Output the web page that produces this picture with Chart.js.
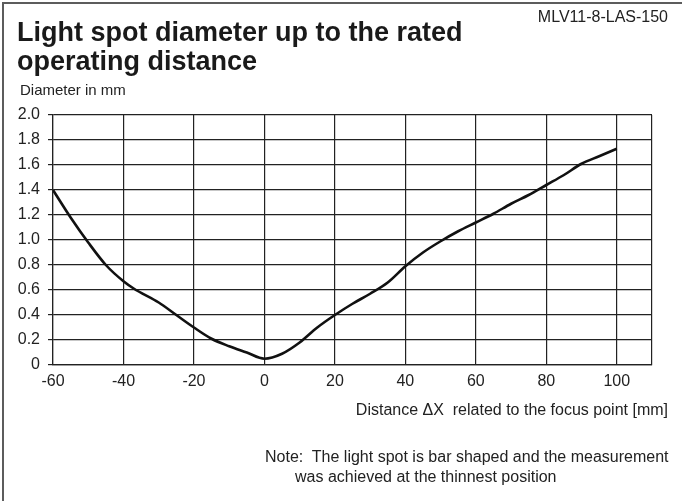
<!DOCTYPE html>
<html>
<head>
<meta charset="utf-8">
<script src="https://cdn.jsdelivr.net/npm/chart.js@4.4.1/dist/chart.umd.min.js"></script>
<style>
  body { margin: 0; background: #fff; font-family: "Liberation Sans", Arial, sans-serif; color: #222; }
  #wrap { position: relative; width: 682px; height: 501px; overflow: hidden; }
  #frame { position: absolute; left: 2px; top: 2px; width: 680px; height: 499px;
           border-left: 2px solid #5c5c5c; border-top: 2px solid #5c5c5c; box-sizing: border-box; }
  canvas { position: absolute; left: 0; top: 0; }
  .txt { position: absolute; white-space: nowrap; line-height: 18px; }
  #title { left: 17px; top: 18px; font-size: 27px; font-weight: bold; line-height: 29px; color: #1a1a1a; }
  #code { right: 14px; top: 8px; font-size: 16px; }
  #ylab { left: 20px; top: 81px; font-size: 15px; }
  #xlab { right: 14px; top: 401px; font-size: 16px; }
  #note { left: 265px; top: 447px; font-size: 16px; line-height: 20px; }
</style>
</head>
<body>
<div id="wrap">
  <canvas id="spotChart" width="682" height="501"></canvas>
  <div id="frame"></div>
  <div class="txt" id="title">Light spot diameter up to the rated<br>operating distance</div>
  <div class="txt" id="code">MLV11-8-LAS-150</div>
  <div class="txt" id="ylab">Diameter in mm</div>
  <div class="txt" id="xlab">Distance &Delta;X&nbsp; related to the focus point [mm]</div>
  <div class="txt" id="note">Note:&nbsp; The light spot is bar shaped and the measurement<br><span style="padding-left:30px">was achieved at the thinnest position</span></div>
</div>
<script>
// Abstand zum Fokuspunkt (mm)
const distance = [-60, -55, -50, -45, -40, -37, -30, -25, -20, -15, -10, -5, 0, 5, 10, 15, 20,
                  25, 30, 35, 40, 45, 50, 55, 60, 65, 70, 75, 80, 85, 90, 95, 100];
// Lichtfleckdurchmesser (mm)
const diameter = [1.40, 1.18, 0.98, 0.80, 0.67, 0.61, 0.50, 0.40, 0.30, 0.21, 0.15, 0.10, 0.05, 0.09, 0.18, 0.30, 0.40,
                  0.49, 0.57, 0.66, 0.79, 0.90, 0.99, 1.07, 1.14, 1.21, 1.29, 1.36, 1.44, 1.52, 1.61, 1.67, 1.73];
const xTicks = [-60, -40, -20, 0, 20, 40, 60, 80, 100];
const yTicks = ['0', '0.2', '0.4', '0.6', '0.8', '1.0', '1.2', '1.4', '1.6', '1.8', '2.0'];

const points = distance.map((d, i) => ({ x: d, y: diameter[i] }));
const lineColor = '#222';
const tickFont = { family: 'Liberation Sans', size: 16 };

new Chart(document.getElementById('spotChart'), {
  type: 'line',
  data: {
    datasets: [{
      data: points,
      borderColor: '#111',
      borderWidth: 2.6,
      pointRadius: 0,
      cubicInterpolationMode: 'monotone',
      fill: false
    }]
  },
  options: {
    responsive: false,
    animation: false,
    layout: { padding: { left: 0, top: 115, right: 30, bottom: 0 } },
    plugins: { legend: { display: false }, tooltip: { enabled: false } },
    scales: {
      x: {
        type: 'linear',
        min: -60,
        max: 110,
        afterBuildTicks: (scale) => {
          // Rahmen rechts bei 110 als zusätzliche Gitterlinie
          scale.ticks = xTicks.map(v => ({ value: v })).concat([{ value: 110 }]);
        },
        afterFit: (scale) => { scale.height = 136; },
        ticks: {
          color: lineColor,
          font: tickFont,
          padding: 7,
          maxRotation: 0,
          callback: (v) => xTicks.includes(v) ? String(v) : ''
        },
        grid: { color: lineColor, lineWidth: 1.2, drawTicks: false },
        border: { color: lineColor, width: 1.2 }
      },
      y: {
        min: 0,
        max: 2,
        afterBuildTicks: (scale) => {
          scale.ticks = yTicks.map(v => ({ value: parseFloat(v) }));
        },
        afterFit: (scale) => { scale.width = 53; },
        ticks: {
          color: lineColor,
          font: tickFont,
          padding: 8,
          callback: (v) => yTicks.find(t => parseFloat(t) === v)
        },
        grid: { color: lineColor, lineWidth: 1.2, tickLength: 5 },
        border: { color: lineColor, width: 1.2 }
      }
    }
  }
});
</script>
</body>
</html>
